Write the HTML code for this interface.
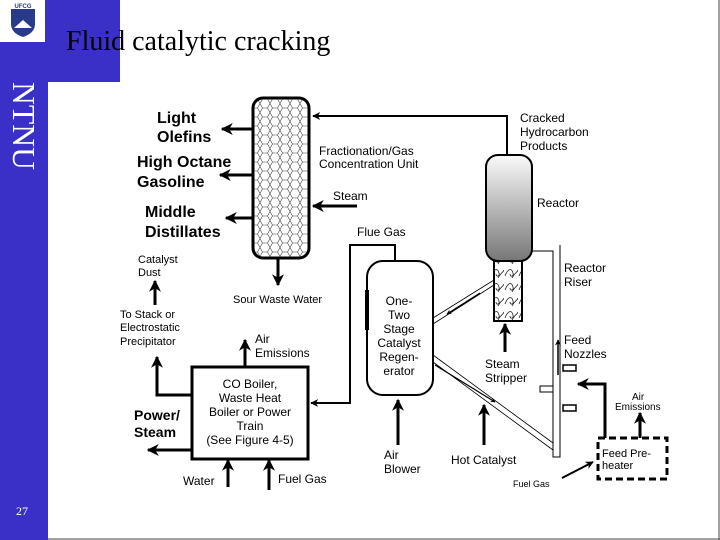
<!DOCTYPE html>
<html><head><meta charset="utf-8"><style>
html,body{margin:0;padding:0;background:#fff}
body{width:720px;height:540px;position:relative;overflow:hidden;font-family:"Liberation Sans",sans-serif}
</style></head><body>
<svg width="720" height="540" viewBox="0 0 720 540" xmlns="http://www.w3.org/2000/svg" style="position:absolute;left:0;top:0">
<defs>
<pattern id="hex" width="10" height="9" patternUnits="userSpaceOnUse">
<path d="M0 4.5 L2.5 0 L7.5 0 L10 4.5 L7.5 9 L2.5 9 Z" fill="none" stroke="#444" stroke-width="0.6"/>
</pattern>
<pattern id="wave" width="14" height="14" patternUnits="userSpaceOnUse">
<path d="M1 10 C4 2 8 2 9 7 C10 11 6 11 6 8 M8 12 C11 6 13 7 14 4" fill="none" stroke="#222" stroke-width="0.8"/>
</pattern>
<linearGradient id="rg" x1="0" y1="0" x2="0" y2="1">
<stop offset="0" stop-color="#fafafa"/><stop offset="1" stop-color="#777"/>
</linearGradient>
<marker id="a" viewBox="0 0 10 10" refX="9" refY="5" markerWidth="4" markerHeight="4" orient="auto-start-reverse">
<path d="M0 0 L10 5 L0 10 L3 5 Z" fill="#000"/>
</marker>
</defs>
<!-- blue frame -->
<rect x="0" y="0" width="48" height="540" fill="#3a30c8"/>
<rect x="0" y="0" width="120" height="82" fill="#3a30c8"/>
<rect x="0" y="0" width="45" height="42" fill="#fff"/>
<path d="M11 9 L35 9 L35 24 Q35 33 23 37 Q11 33 11 24 Z" fill="#2a3a8a"/>
<path d="M14 28 L23 20 L32 28 Z" fill="#fff"/>
<text x="23" y="8" font-size="6" font-weight="bold" fill="#2a3a8a" text-anchor="middle">UFCG</text>
<text transform="translate(13,82) rotate(90)" x="0" y="0" font-family="Liberation Serif,serif" font-size="32" fill="#fff" textLength="88" lengthAdjust="spacingAndGlyphs">NTNU</text>
<line x1="719" y1="0" x2="719" y2="540" stroke="#444" stroke-width="1"/>
<line x1="48" y1="539" x2="720" y2="539" stroke="#444" stroke-width="1"/>
<text x="66" y="50" font-family="Liberation Serif,serif" font-size="28" fill="#000">Fluid catalytic cracking</text>
<text x="16" y="515" font-family="Liberation Serif,serif" font-size="12" fill="#fff">27</text>

<g stroke="#000" fill="none">
<!-- column -->
<rect x="253" y="98" width="56" height="160" rx="10" fill="url(#hex)" stroke-width="3"/>
<g stroke-width="3" marker-end="url(#a)">
<line x1="253" y1="129" x2="222" y2="129"/>
<line x1="253" y1="175" x2="220" y2="175"/>
<line x1="253" y1="218" x2="226" y2="218"/>
<line x1="278" y1="258" x2="278" y2="285"/>
<line x1="357" y1="206" x2="313" y2="206"/>
</g>
<polyline points="507,155 507,116 313,116" stroke-width="2" marker-end="url(#a)"/>
<!-- reactor -->
<rect x="486" y="155" width="46" height="106" rx="12" fill="url(#rg)" stroke-width="2"/>
<rect x="494" y="261" width="28" height="60" fill="url(#wave)" stroke-width="2"/>
<line x1="505" y1="352" x2="505" y2="324" stroke-width="3" marker-end="url(#a)"/>
<!-- riser -->
<polyline points="532,251 553,251 553,457 560,457 560,245" stroke-width="1"/>
<line x1="558" y1="375" x2="558" y2="340" stroke-width="1.5" marker-end="url(#a)"/>
<rect x="563" y="365" width="13" height="6" stroke-width="1.5" fill="#fff"/>
<rect x="540" y="386" width="13" height="6" stroke-width="1" fill="#fff"/>
<rect x="563" y="405" width="13" height="6" stroke-width="1.5" fill="#fff"/>
<!-- regenerator -->
<rect x="367" y="261" width="66" height="134" rx="16" stroke-width="2" fill="#fff"/>
<line x1="367" y1="290" x2="367" y2="330" stroke-width="4"/>
<polyline points="395,261 395,245 350,245 350,403 311,403" stroke-width="2" marker-end="url(#a)"/>
<line x1="398" y1="445" x2="398" y2="400" stroke-width="3" marker-end="url(#a)"/>
<!-- diagonals -->
<g stroke-width="0.8">
<line x1="494" y1="280" x2="433" y2="318"/>
<line x1="494" y1="285" x2="433" y2="324"/>
<line x1="433" y1="355" x2="553" y2="443"/>
<line x1="433" y1="362" x2="553" y2="450"/>
</g>
<line x1="480" y1="293" x2="447" y2="314" stroke-width="1.2" marker-end="url(#a)"/>
<line x1="435" y1="365" x2="495" y2="402" stroke-width="1.2" marker-end="url(#a)"/>
<line x1="484" y1="445" x2="484" y2="405" stroke-width="3" marker-end="url(#a)"/>
<!-- preheater -->
<rect x="598" y="438" width="69" height="41" stroke-width="3" stroke-dasharray="7,4"/>
<polyline points="605,438 605,384 578,384" stroke-width="3" marker-end="url(#a)"/>
<line x1="640" y1="438" x2="640" y2="413" stroke-width="3" marker-end="url(#a)"/>
<line x1="562" y1="478" x2="593" y2="462" stroke-width="2" marker-end="url(#a)"/>
<!-- CO boiler -->
<rect x="192" y="367" width="116" height="92" stroke-width="3" fill="#fff"/>
<line x1="245" y1="367" x2="245" y2="340" stroke-width="3" marker-end="url(#a)"/>
<polyline points="192,395 157,395 157,357" stroke-width="3" marker-end="url(#a)"/>
<line x1="155" y1="305" x2="155" y2="281" stroke-width="3" marker-end="url(#a)"/>
<line x1="192" y1="450" x2="148" y2="450" stroke-width="3" marker-end="url(#a)"/>
<line x1="228" y1="487" x2="228" y2="460" stroke-width="3" marker-end="url(#a)"/>
<line x1="269" y1="490" x2="269" y2="460" stroke-width="3" marker-end="url(#a)"/>
</g>

<g fill="#000" font-size="16" font-weight="bold">
<text x="157" y="123">Light</text>
<text x="157" y="142">Olefins</text>
<text x="137" y="167">High Octane</text>
<text x="137" y="187">Gasoline</text>
<text x="145" y="217">Middle</text>
<text x="145" y="237">Distillates</text>
<text x="134" y="420" font-size="14">Power/</text>
<text x="134" y="437" font-size="14">Steam</text>
</g>
<g fill="#000" font-size="12">
<text x="319" y="155">Fractionation/Gas</text>
<text x="319" y="168">Concentration Unit</text>
<text x="333" y="200">Steam</text>
<text x="357" y="236">Flue Gas</text>
<text x="520" y="122">Cracked</text>
<text x="520" y="136">Hydrocarbon</text>
<text x="520" y="150">Products</text>
<text x="537" y="207">Reactor</text>
<text x="564" y="272">Reactor</text>
<text x="564" y="286">Riser</text>
<text x="564" y="344">Feed</text>
<text x="564" y="358">Nozzles</text>
<text x="485" y="368">Steam</text>
<text x="485" y="382">Stripper</text>
<text x="451" y="464">Hot Catalyst</text>
<text x="384" y="459">Air</text>
<text x="384" y="473">Blower</text>
<g text-anchor="middle">
<text x="399" y="305">One-</text>
<text x="399" y="319">Two</text>
<text x="399" y="333">Stage</text>
<text x="399" y="347">Catalyst</text>
<text x="399" y="361">Regen-</text>
<text x="399" y="375">erator</text>
<text x="250" y="388">CO Boiler,</text>
<text x="250" y="402">Waste Heat</text>
<text x="250" y="416">Boiler or Power</text>
<text x="250" y="430">Train</text>
<text x="250" y="444">(See Figure 4-5)</text>
</g>
<text x="233" y="303" font-size="11">Sour Waste Water</text>
<text x="138" y="263" font-size="11">Catalyst</text>
<text x="138" y="276" font-size="11">Dust</text>
<text x="120" y="318" font-size="11">To Stack or</text>
<text x="120" y="331" font-size="11">Electrostatic</text>
<text x="120" y="345" font-size="11">Precipitator</text>
<text x="255" y="343">Air</text>
<text x="255" y="357">Emissions</text>
<text x="183" y="485">Water</text>
<text x="278" y="483">Fuel Gas</text>
<text x="632" y="400" font-size="10">Air</text>
<text x="615" y="410" font-size="10">Emissions</text>
<text x="602" y="457" font-size="11">Feed Pre-</text>
<text x="602" y="469" font-size="11">heater</text>
<text x="513" y="487" font-size="9">Fuel Gas</text>
</g>
</svg>
</body></html>
